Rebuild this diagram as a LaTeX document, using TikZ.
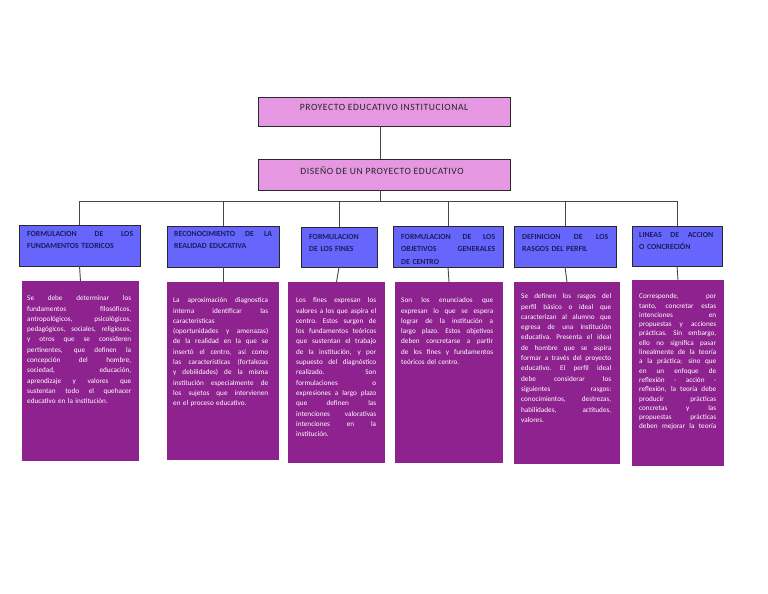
\documentclass[tikz,border=0pt]{standalone}
\usepackage{fontspec}
\setmainfont{Carlito}
\newfontfamily\topfont{Carlito}[LetterSpace=6.0]
\definecolor{pinkfill}{RGB}{229,152,225}
\definecolor{bluefill}{RGB}{102,102,252}
\definecolor{purplefill}{RGB}{142,34,142}
\definecolor{boxborder}{RGB}{40,40,40}
\definecolor{linegray}{RGB}{70,70,70}
\definecolor{headnavy}{RGB}{28,28,92}
\setlength{\parindent}{0pt}
\setlength{\parskip}{0pt}
\newcommand\J[1]{\hbox to \hsize{\spaceskip=0.25em plus 1fil\relax\xspaceskip=0.3em plus 1fil\relax #1}\par}
\tikzset{
  conn/.style={draw=linegray, line width=0.9pt},
  pinkbox/.style={draw=boxborder, line width=0.8pt, fill=pinkfill, inner sep=0pt, outer sep=0pt, anchor=north west},
  bluebox/.style={draw=boxborder, line width=0.8pt, fill=bluefill, inner sep=0pt, outer sep=0pt, anchor=north west},
  purplebox/.style={fill=purplefill, inner sep=0pt, outer sep=0pt, anchor=north west},
  bodytext/.style={text=white, font=\fontsize{7.2}{10.3}\selectfont, inner sep=0pt, anchor=north west, align=left, text width=#1},
  headtext/.style={text=headnavy, font=\bfseries\fontsize{7.8}{12.5}\selectfont, inner sep=0pt, anchor=north west, align=left, text width=#1},
  toptext/.style={text=black!85, font=\topfont\fontsize{9.6}{11}\selectfont, inner sep=0pt, anchor=base},
}
\begin{document}
\begin{tikzpicture}[x=1pt, y=-1pt]
\useasboundingbox (0,0) rectangle (768,594);
\fill[white] (0,0) rectangle (768,594);
% top boxes
\node[pinkbox, minimum width=252pt, minimum height=29pt] (pei) at (258,97) {};
\node[pinkbox, minimum width=252pt, minimum height=31pt] (dis) at (258,159) {};
\node[toptext] (tpei) at (384,110) {PROYECTO EDUCATIVO INSTITUCIONAL};
\node[toptext] (tdis) at (382,174) {DISEÑO DE UN PROYECTO EDUCATIVO};
% header boxes
\node[bluebox, minimum width=121pt, minimum height=41pt] (h1) at (19,225) {};
\node[bluebox, minimum width=112pt, minimum height=41pt] (h2) at (167,226) {};
\node[bluebox, minimum width=76pt, minimum height=40pt] (h3) at (301,227) {};
\node[bluebox, minimum width=110pt, minimum height=41pt] (h4) at (393,226) {};
\node[bluebox, minimum width=102pt, minimum height=41pt] (h5) at (514,226) {};
\node[bluebox, minimum width=90pt, minimum height=40pt] (h6) at (632,226) {};
% purple boxes
\node[purplebox, minimum width=117pt, minimum height=180pt] (p1) at (22,281) {};
\node[purplebox, minimum width=112pt, minimum height=178pt] (p2) at (167,282) {};
\node[purplebox, minimum width=97pt, minimum height=181pt] (p3) at (288,282) {};
\node[purplebox, minimum width=108pt, minimum height=181pt] (p4) at (395,282) {};
\node[purplebox, minimum width=106pt, minimum height=182pt] (p5) at (514,282) {};
\node[purplebox, minimum width=92pt, minimum height=186pt] (p6) at (632,280) {};
% connectors
\coordinate (cx) at (380,0);
\coordinate (bus) at (0,201);
\draw[conn] (pei.south -| cx) -- (dis.north -| cx);
\draw[conn] (dis.south -| cx) -- (cx |- bus);
\draw[conn] (h1.north |- bus) -- (h6.north |- bus);
\foreach \i in {1,...,6}{
  \draw[conn] (h\i.north |- bus) -- (h\i.north);
  \draw[conn] (h\i.south) -- (p\i.north);
}
% header texts
\node[headtext=106pt] (th1) at (27,231) {\J{FORMULACION DE LOS}FUNDAMENTOS TEORICOS};
\node[headtext=98pt] (th2) at (174,231) {\J{RECONOCIMIENTO DE LA}REALIDAD EDUCATIVA};
\node[headtext=62pt] (th3) at (309,234) {FORMULACION\par DE LOS FINES};
\node[headtext=94pt] (th4) at (401,234) {\J{FORMULACION DE LOS}\J{OBJETIVOS GENERALES}DE CENTRO};
\node[headtext=86pt] (th5) at (522,234) {\J{DEFINICION DE LOS}RASGOS DEL PERFIL};
\node[headtext=74pt] (th6) at (639,232) {\J{LINEAS DE ACCION}O CONCRECIÓN};
% body texts
\node[bodytext=104pt] (tp1) at (27,295.5) {\J{Se debe determinar los}\J{fundamentos filosóficos,}\J{antropológicos, psicológicos,}\J{pedagógicos, sociales, religiosos,}\J{y otros que se consideren}\J{pertinentes, que definen la}\J{concepción del hombre,}\J{sociedad, educación,}\J{aprendizaje y valores que}\J{sustentan todo el quehacer}educativo en la institución.};
\node[bodytext=95pt] (tp2) at (173,297.5) {\J{La aproximación diagnostica}\J{interna identificar las}características\par\J{(oportunidades y amenazas)}\J{de la realidad en la que se}\J{insertó el centro, así como}\J{las características (fortalezas}\J{y debilidades) de la misma}\J{institución especialmente de}\J{los sujetos que intervienen}en el proceso educativo.};
\node[bodytext=80pt] (tp3) at (296,297.5) {\J{Los fines expresan los}\J{valores a los que aspira el}\J{centro. Estos surgen de}\J{los fundamentos teóricos}\J{que sustentan el trabajo}\J{de la institución, y por}\J{supuesto del diagnóstico}\J{realizado. Son}\J{formulaciones o}\J{expresiones a largo plazo}\J{que definen las}\J{intenciones valorativas}\J{intenciones en la}institución.};
\node[bodytext=92pt] (tp4) at (401,297.5) {\J{Son los enunciados que}\J{expresan lo que se espera}\J{lograr de la institución a}\J{largo plazo. Estos objetivos}\J{deben concretarse a partir}\J{de los fines y fundamentos}teóricos del centro.};
\node[bodytext=90pt] (tp5) at (521,293.5) {\J{Se definen los rasgos del}\J{perfil básico o ideal que}\J{caracterizan al alumno que}\J{egresa de una institución}\J{educativa. Presenta el ideal}\J{de hombre que se aspira}\J{formar a través del proyecto}\J{educativo. El perfil ideal}\J{debe considerar los}\J{siguientes rasgos:}\J{conocimientos, destrezas,}\J{habilidades, actitudes,}valores.};
\node[bodytext=77pt, font=\fontsize{7.2}{9.3}\selectfont] (tp6) at (639,293.5) {\J{Corresponde, por}\J{tanto, concretar estas}\J{intenciones en}\J{propuestas y acciones}\J{prácticas. Sin embargo,}\J{ello no significa pasar}\J{linealmente de la teoría}\J{a la práctica; sino que}\J{en un enfoque de}\J{reflexión - acción -}\J{reflexión, la teoría debe}\J{producir prácticas}\J{concretas y las}\J{propuestas prácticas}\J{deben mejorar la teoría}};
\end{tikzpicture}
\end{document}
